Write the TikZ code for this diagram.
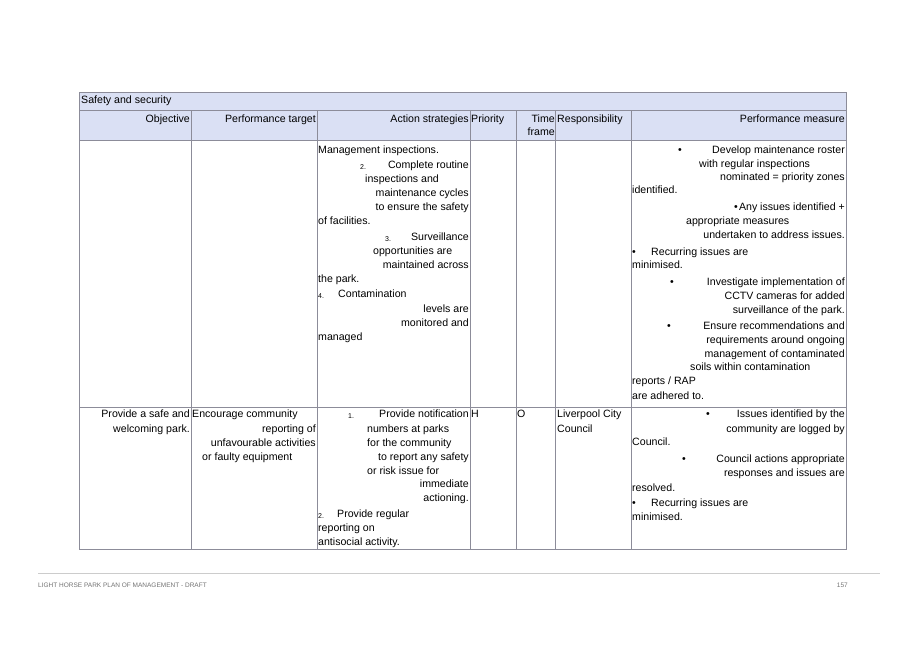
\documentclass[tikz,border=0pt]{standalone}
\usepackage{fontspec}
\setmainfont{Liberation Sans}
\definecolor{headblue}{rgb}{0.855, 0.878, 0.957}
\definecolor{rulegray}{rgb}{0.55, 0.55, 0.6}
\definecolor{footgray}{rgb}{0.45, 0.45, 0.45}
\tikzset{txt/.style={inner sep=0pt, font=\fontsize{10.6}{12}\selectfont}}
\tikzset{num/.style={inner sep=0pt, font=\fontsize{7}{8}\selectfont}}
\newcommand\lineL[3]{\node[txt, anchor=mid west] at (#1,#2) {#3};}
\newcommand\lineR[3]{\node[txt, anchor=mid east] at (#1,#2) {#3};}
\newcommand\numL[3]{\node[num, anchor=mid west] at (#1,#2) {#3};}

\begin{document}
\begin{tikzpicture}[x=1pt, y=-1pt]
\useasboundingbox (0,0) rectangle (917,648);

% header fills
\fill[headblue] (79,92) rectangle (846,140);
\draw[rulegray] (79,92) rectangle (846,549);
\draw[rulegray] (79,110) -- (846,110);
\draw[rulegray] (79,140) -- (846,140);
\draw[rulegray] (79,407) -- (846,407);
\foreach \x in {191,317,470,516,555,631}
  \draw[rulegray] (\x,110) -- (\x,549);

% header texts
\lineL{81}{101}{Safety and security}
\lineR{190}{120}{Objective}
\lineR{316}{120}{Performance target}
\lineR{469}{120}{Action strategies}
\lineL{471}{120}{Priority}
\lineR{555}{120}{Time}
\lineR{555}{133}{frame}
\lineL{557}{120}{Responsibility}
\lineR{845}{120}{Performance measure}

% row 1, action strategies
\lineL{318}{151}{Management inspections.}
\numL{360}{167}{2.}
\lineR{469}{166}{Complete routine}
\lineL{365}{180}{inspections and}
\lineR{469}{194}{maintenance cycles}
\lineR{469}{208}{to ensure the safety}
\lineL{318}{222}{of facilities.}
\numL{385}{239}{3.}
\lineR{469}{238}{Surveillance}
\lineL{373}{252}{opportunities are}
\lineR{469}{266}{maintained across}
\lineL{318}{280}{the park.}
\numL{318}{296}{4.}
\lineL{338}{295}{Contamination}
\lineR{469}{310}{levels are}
\lineR{469}{324}{monitored and}
\lineL{318}{338}{managed}

% row 1, performance measure
\lineL{678}{151}{•}
\lineR{845}{151}{Develop maintenance roster}
\lineL{699}{165}{with regular inspections}
\lineR{845}{178}{nominated = priority zones}
\lineL{632}{191}{identified.}
\lineL{734}{208}{•}
\lineR{845}{208}{Any issues identified +}
\lineL{686}{222}{appropriate measures}
\lineR{845}{236}{undertaken to address issues.}
\lineL{632}{253}{•}
\lineL{651}{253}{Recurring issues are}
\lineL{632}{266}{minimised.}
\lineL{670}{283}{•}
\lineR{845}{283}{Investigate implementation of}
\lineR{845}{297}{CCTV cameras for added}
\lineR{845}{311}{surveillance of the park.}
\lineL{667}{327}{•}
\lineR{845}{327}{Ensure recommendations and}
\lineR{845}{341}{requirements around ongoing}
\lineR{845}{355}{management of contaminated}
\lineL{690}{368}{soils within contamination}
\lineL{632}{382}{reports / RAP}
\lineL{632}{397}{are adhered to.}

% row 2
\lineR{190}{415}{Provide a safe and}
\lineR{190}{430}{welcoming park.}
\lineL{192}{415}{Encourage community}
\lineR{316}{430}{reporting of}
\lineR{316}{444}{unfavourable activities}
\lineL{202}{458}{or faulty equipment}
\numL{348}{416}{1.}
\lineR{469}{415}{Provide notification}
\lineL{367}{430}{numbers at parks}
\lineL{367}{444}{for the community}
\lineR{469}{458}{to report any safety}
\lineL{367}{472}{or risk issue for}
\lineR{469}{485}{immediate}
\lineR{469}{499}{actioning.}
\numL{318}{516}{2.}
\lineL{337}{515}{Provide regular}
\lineL{318}{529}{reporting on}
\lineL{318}{543}{antisocial activity.}
\lineL{471}{415}{H}
\lineL{517}{415}{O}
\lineL{557}{415}{Liverpool City}
\lineL{557}{430}{Council}
\lineL{706}{415}{•}
\lineR{845}{415}{Issues identified by the}
\lineR{845}{430}{community are logged by}
\lineL{632}{443}{Council.}
\lineL{682}{460}{•}
\lineR{845}{460}{Council actions appropriate}
\lineR{845}{474}{responses and issues are}
\lineL{632}{489}{resolved.}
\lineL{632}{504}{•}
\lineL{651}{504}{Recurring issues are}
\lineL{632}{518}{minimised.}

% footer
\draw[black!20] (38,573) -- (880,573);
\node[inner sep=0pt, anchor=mid west, text=footgray, font=\fontsize{6.5}{8}\selectfont] (foottitle) at (38,585) {LIGHT HORSE PARK PLAN OF MANAGEMENT - DRAFT};
\node[inner sep=0pt, anchor=mid east, text=footgray, font=\fontsize{6.5}{8}\selectfont] (pagenum) at (848,585) {157};
\end{tikzpicture}
\end{document}
